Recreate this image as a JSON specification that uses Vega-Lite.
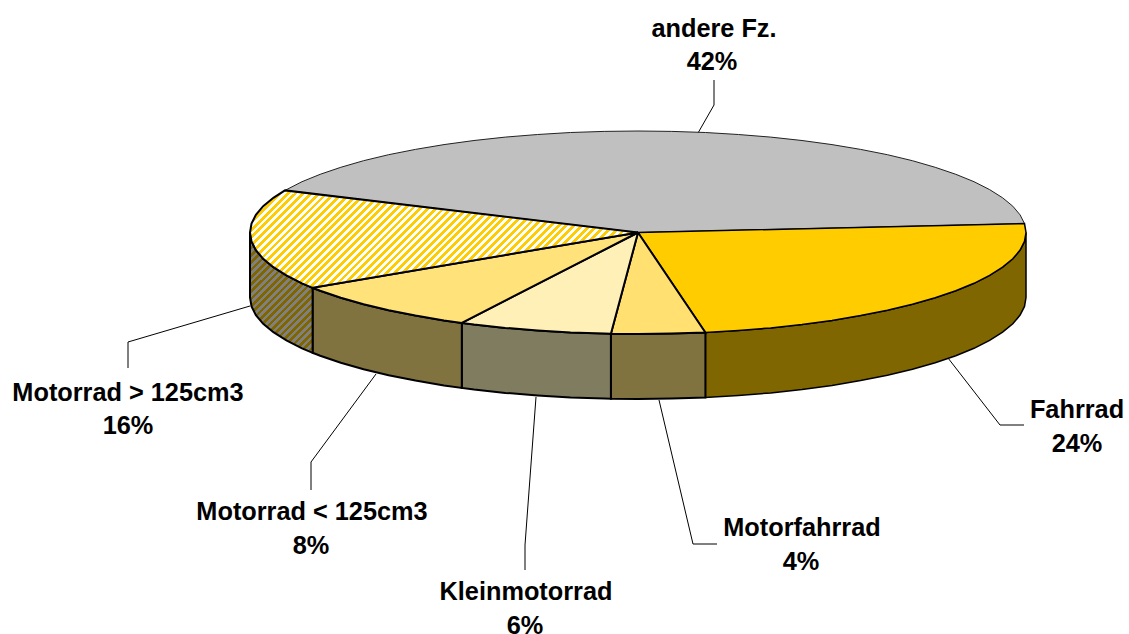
{"$schema":"https://vega.github.io/schema/vega-lite/v6.json","width":1129,"height":634,"padding":0,"autosize":{"type":"none"},"background":"white","config":{"view":{"stroke":null}},
"datasets":{"outline":[
{"part":"wF","i":0,"x":1026,"y":232.5},{"part":"wF","i":1,"x":1024.5,"y":241.4},{"part":"wF","i":2,"x":1020.1,"y":250.1},{"part":"wF","i":3,"x":1012.8,"y":258.8},{"part":"wF","i":4,"x":1002.6,"y":267.2},{"part":"wF","i":5,"x":989.6,"y":275.4},{"part":"wF","i":6,"x":974,"y":283.3},{"part":"wF","i":7,"x":955.8,"y":290.7},{"part":"wF","i":8,"x":935.2,"y":297.7},{"part":"wF","i":9,"x":912.4,"y":304.3},{"part":"wF","i":10,"x":887.4,"y":310.3},{"part":"wF","i":11,"x":860.6,"y":315.6},{"part":"wF","i":12,"x":832,"y":320.4},{"part":"wF","i":13,"x":802,"y":324.5},{"part":"wF","i":14,"x":770.7,"y":327.9},{"part":"wF","i":15,"x":738.4,"y":330.5},{"part":"wF","i":16,"x":705.4,"y":332.5},
{"part":"wF","i":17,"x":705.4,"y":397.5},{"part":"wF","i":18,"x":738.4,"y":395.5},{"part":"wF","i":19,"x":770.7,"y":392.9},{"part":"wF","i":20,"x":802,"y":389.5},{"part":"wF","i":21,"x":832,"y":385.4},{"part":"wF","i":22,"x":860.6,"y":380.6},{"part":"wF","i":23,"x":887.4,"y":375.3},{"part":"wF","i":24,"x":912.4,"y":369.3},{"part":"wF","i":25,"x":935.2,"y":362.7},{"part":"wF","i":26,"x":955.8,"y":355.7},{"part":"wF","i":27,"x":974,"y":348.3},{"part":"wF","i":28,"x":989.6,"y":340.4},{"part":"wF","i":29,"x":1002.6,"y":332.2},{"part":"wF","i":30,"x":1012.8,"y":323.8},{"part":"wF","i":31,"x":1020.1,"y":315.1},{"part":"wF","i":32,"x":1024.5,"y":306.4},{"part":"wF","i":33,"x":1026,"y":297.5},{"part":"wF","i":34,"x":1026,"y":232.5},
{"part":"wM","i":0,"x":705.4,"y":332.5},{"part":"wM","i":1,"x":671.8,"y":333.6},{"part":"wM","i":2,"x":638,"y":334},{"part":"wM","i":3,"x":610.9,"y":333.8},{"part":"wM","i":4,"x":610.9,"y":398.8},{"part":"wM","i":5,"x":638,"y":399},{"part":"wM","i":6,"x":671.8,"y":398.6},{"part":"wM","i":7,"x":705.4,"y":397.5},{"part":"wM","i":8,"x":705.4,"y":332.5},
{"part":"wK","i":0,"x":610.9,"y":333.8},{"part":"wK","i":1,"x":604.2,"y":333.6},{"part":"wK","i":2,"x":570.6,"y":332.5},{"part":"wK","i":3,"x":537.6,"y":330.5},{"part":"wK","i":4,"x":505.3,"y":327.9},{"part":"wK","i":5,"x":474,"y":324.5},{"part":"wK","i":6,"x":461.8,"y":322.9},{"part":"wK","i":7,"x":461.8,"y":387.9},{"part":"wK","i":8,"x":474,"y":389.5},{"part":"wK","i":9,"x":505.3,"y":392.9},{"part":"wK","i":10,"x":537.6,"y":395.5},{"part":"wK","i":11,"x":570.6,"y":397.5},{"part":"wK","i":12,"x":604.2,"y":398.6},{"part":"wK","i":13,"x":610.9,"y":398.8},{"part":"wK","i":14,"x":610.9,"y":333.8},
{"part":"wL","i":0,"x":461.8,"y":322.9},{"part":"wL","i":1,"x":444,"y":320.4},{"part":"wL","i":2,"x":415.4,"y":315.6},{"part":"wL","i":3,"x":388.6,"y":310.3},{"part":"wL","i":4,"x":363.6,"y":304.3},{"part":"wL","i":5,"x":340.8,"y":297.7},{"part":"wL","i":6,"x":320.2,"y":290.7},{"part":"wL","i":7,"x":312.6,"y":287.8},{"part":"wL","i":8,"x":312.6,"y":352.8},{"part":"wL","i":9,"x":320.2,"y":355.7},{"part":"wL","i":10,"x":340.8,"y":362.7},{"part":"wL","i":11,"x":363.6,"y":369.3},{"part":"wL","i":12,"x":388.6,"y":375.3},{"part":"wL","i":13,"x":415.4,"y":380.6},{"part":"wL","i":14,"x":444,"y":385.4},{"part":"wL","i":15,"x":461.8,"y":387.9},{"part":"wL","i":16,"x":461.8,"y":322.9},
{"part":"wG","i":0,"x":312.6,"y":287.8},{"part":"wG","i":1,"x":302,"y":283.3},{"part":"wG","i":2,"x":286.4,"y":275.4},{"part":"wG","i":3,"x":273.4,"y":267.2},{"part":"wG","i":4,"x":263.2,"y":258.8},{"part":"wG","i":5,"x":255.9,"y":250.1},{"part":"wG","i":6,"x":251.5,"y":241.4},{"part":"wG","i":7,"x":250,"y":232.5},{"part":"wG","i":8,"x":250,"y":297.5},{"part":"wG","i":9,"x":251.5,"y":306.4},{"part":"wG","i":10,"x":255.9,"y":315.1},{"part":"wG","i":11,"x":263.2,"y":323.8},{"part":"wG","i":12,"x":273.4,"y":332.2},{"part":"wG","i":13,"x":286.4,"y":340.4},{"part":"wG","i":14,"x":302,"y":348.3},{"part":"wG","i":15,"x":312.6,"y":352.8},{"part":"wG","i":16,"x":312.6,"y":287.8},
{"part":"tA","i":0,"x":638,"y":232.5},{"part":"tA","i":1,"x":285,"y":190.4},{"part":"tA","i":2,"x":302,"y":181.7},{"part":"tA","i":3,"x":320.2,"y":174.3},{"part":"tA","i":4,"x":340.8,"y":167.3},{"part":"tA","i":5,"x":363.6,"y":160.7},{"part":"tA","i":6,"x":388.6,"y":154.7},{"part":"tA","i":7,"x":415.4,"y":149.4},{"part":"tA","i":8,"x":444,"y":144.6},{"part":"tA","i":9,"x":474,"y":140.5},{"part":"tA","i":10,"x":505.3,"y":137.1},{"part":"tA","i":11,"x":537.6,"y":134.5},{"part":"tA","i":12,"x":570.6,"y":132.5},{"part":"tA","i":13,"x":604.2,"y":131.4},{"part":"tA","i":14,"x":638,"y":131},{"part":"tA","i":15,"x":671.8,"y":131.4},{"part":"tA","i":16,"x":705.4,"y":132.5},{"part":"tA","i":17,"x":738.4,"y":134.5},{"part":"tA","i":18,"x":770.7,"y":137.1},{"part":"tA","i":19,"x":802,"y":140.5},{"part":"tA","i":20,"x":832,"y":144.6},{"part":"tA","i":21,"x":860.6,"y":149.4},{"part":"tA","i":22,"x":887.4,"y":154.7},{"part":"tA","i":23,"x":912.4,"y":160.7},{"part":"tA","i":24,"x":935.2,"y":167.3},{"part":"tA","i":25,"x":955.8,"y":174.3},{"part":"tA","i":26,"x":974,"y":181.7},{"part":"tA","i":27,"x":989.6,"y":189.6},{"part":"tA","i":28,"x":1002.6,"y":197.8},{"part":"tA","i":29,"x":1012.8,"y":206.2},{"part":"tA","i":30,"x":1020.1,"y":214.9},{"part":"tA","i":31,"x":1024.5,"y":223.6},{"part":"tA","i":32,"x":638,"y":232.5},
{"part":"tF","i":0,"x":638,"y":232.5},{"part":"tF","i":1,"x":1024.5,"y":223.6},{"part":"tF","i":2,"x":1026,"y":232.5},{"part":"tF","i":3,"x":1024.5,"y":241.4},{"part":"tF","i":4,"x":1020.1,"y":250.1},{"part":"tF","i":5,"x":1012.8,"y":258.8},{"part":"tF","i":6,"x":1002.6,"y":267.2},{"part":"tF","i":7,"x":989.6,"y":275.4},{"part":"tF","i":8,"x":974,"y":283.3},{"part":"tF","i":9,"x":955.8,"y":290.7},{"part":"tF","i":10,"x":935.2,"y":297.7},{"part":"tF","i":11,"x":912.4,"y":304.3},{"part":"tF","i":12,"x":887.4,"y":310.3},{"part":"tF","i":13,"x":860.6,"y":315.6},{"part":"tF","i":14,"x":832,"y":320.4},{"part":"tF","i":15,"x":802,"y":324.5},{"part":"tF","i":16,"x":770.7,"y":327.9},{"part":"tF","i":17,"x":738.4,"y":330.5},{"part":"tF","i":18,"x":705.4,"y":332.5},{"part":"tF","i":19,"x":638,"y":232.5},
{"part":"tM","i":0,"x":638,"y":232.5},{"part":"tM","i":1,"x":705.4,"y":332.5},{"part":"tM","i":2,"x":671.8,"y":333.6},{"part":"tM","i":3,"x":638,"y":334},{"part":"tM","i":4,"x":610.9,"y":333.8},{"part":"tM","i":5,"x":638,"y":232.5},
{"part":"tK","i":0,"x":638,"y":232.5},{"part":"tK","i":1,"x":610.9,"y":333.8},{"part":"tK","i":2,"x":604.2,"y":333.6},{"part":"tK","i":3,"x":570.6,"y":332.5},{"part":"tK","i":4,"x":537.6,"y":330.5},{"part":"tK","i":5,"x":505.3,"y":327.9},{"part":"tK","i":6,"x":474,"y":324.5},{"part":"tK","i":7,"x":461.8,"y":322.9},{"part":"tK","i":8,"x":638,"y":232.5},
{"part":"tL","i":0,"x":638,"y":232.5},{"part":"tL","i":1,"x":461.8,"y":322.9},{"part":"tL","i":2,"x":444,"y":320.4},{"part":"tL","i":3,"x":415.4,"y":315.6},{"part":"tL","i":4,"x":388.6,"y":310.3},{"part":"tL","i":5,"x":363.6,"y":304.3},{"part":"tL","i":6,"x":340.8,"y":297.7},{"part":"tL","i":7,"x":320.2,"y":290.7},{"part":"tL","i":8,"x":312.6,"y":287.8},{"part":"tL","i":9,"x":638,"y":232.5},
{"part":"tG","i":0,"x":638,"y":232.5},{"part":"tG","i":1,"x":312.6,"y":287.8},{"part":"tG","i":2,"x":302,"y":283.3},{"part":"tG","i":3,"x":286.4,"y":275.4},{"part":"tG","i":4,"x":273.4,"y":267.2},{"part":"tG","i":5,"x":263.2,"y":258.8},{"part":"tG","i":6,"x":255.9,"y":250.1},{"part":"tG","i":7,"x":251.5,"y":241.4},{"part":"tG","i":8,"x":250,"y":232.5},{"part":"tG","i":9,"x":251.5,"y":223.6},{"part":"tG","i":10,"x":255.9,"y":214.9},{"part":"tG","i":11,"x":263.2,"y":206.2},{"part":"tG","i":12,"x":273.4,"y":197.8},{"part":"tG","i":13,"x":285,"y":190.4},{"part":"tG","i":14,"x":638,"y":232.5}
],
"leaders":[
{"to":"andere Fz.","i":0,"x":714,"y":80},{"to":"andere Fz.","i":1,"x":714,"y":105},{"to":"andere Fz.","i":2,"x":698,"y":133},
{"to":"Fahrrad","i":0,"x":948,"y":358},{"to":"Fahrrad","i":1,"x":1000,"y":425},{"to":"Fahrrad","i":2,"x":1024,"y":425},
{"to":"Motorfahrrad","i":0,"x":659,"y":400},{"to":"Motorfahrrad","i":1,"x":693,"y":544},{"to":"Motorfahrrad","i":2,"x":717,"y":544},
{"to":"Kleinmotorrad","i":0,"x":536,"y":397},{"to":"Kleinmotorrad","i":1,"x":525,"y":545},{"to":"Kleinmotorrad","i":2,"x":525,"y":570},
{"to":"Motorrad < 125cm3","i":0,"x":376,"y":374},{"to":"Motorrad < 125cm3","i":1,"x":311,"y":462},{"to":"Motorrad < 125cm3","i":2,"x":311,"y":490},
{"to":"Motorrad > 125cm3","i":0,"x":250,"y":306},{"to":"Motorrad > 125cm3","i":1,"x":128,"y":342},{"to":"Motorrad > 125cm3","i":2,"x":128,"y":368}
],
"labels":[
{"text":"andere Fz.","x":714,"y":27},{"text":"42%","x":712,"y":60},
{"text":"Fahrrad","x":1077,"y":408},{"text":"24%","x":1077,"y":442},
{"text":"Motorfahrrad","x":802,"y":526},{"text":"4%","x":801,"y":560},
{"text":"Kleinmotorrad","x":526,"y":590},{"text":"6%","x":525,"y":624},
{"text":"Motorrad < 125cm3","x":312,"y":510},{"text":"8%","x":311,"y":544},
{"text":"Motorrad > 125cm3","x":128,"y":391},{"text":"16%","x":128,"y":424}
]},
"encoding":{"x":{"field":"x","type":"quantitative","axis":null,"scale":{"domain":[0,1129],"nice":false,"zero":false}},"y":{"field":"y","type":"quantitative","axis":null,"scale":{"domain":[634,0],"nice":false,"zero":false}}},
"layer":[
{"data":{"name":"leaders"},"mark":{"type":"line","stroke":"#000","strokeWidth":1},"encoding":{"detail":{"field":"to"},"order":{"field":"i"}}},
{"data":{"name":"outline"},"transform":[{"filter":{"field":"part","equal":"wF"}}],"mark":{"type":"line","fill":"#806600","stroke":"#000","strokeWidth":1.5},"encoding":{"order":{"field":"i"}}},
{"data":{"name":"outline"},"transform":[{"filter":{"field":"part","equal":"wM"}}],"mark":{"type":"line","fill":"#807340","stroke":"#000","strokeWidth":2},"encoding":{"order":{"field":"i"}}},
{"data":{"name":"outline"},"transform":[{"filter":{"field":"part","equal":"wK"}}],"mark":{"type":"line","fill":"#807C60","stroke":"#000","strokeWidth":2},"encoding":{"order":{"field":"i"}}},
{"data":{"name":"outline"},"transform":[{"filter":{"field":"part","equal":"wL"}}],"mark":{"type":"line","fill":"#807340","stroke":"#000","strokeWidth":2},"encoding":{"order":{"field":"i"}}},
{"data":{"name":"outline"},"transform":[{"filter":{"field":"part","equal":"wG"}}],"mark":{"type":"line","stroke":"#000","strokeWidth":2,"fill":{"gradient":"linear","x1":0,"y1":0,"x2":0.622,"y2":1.196,"stops":[{"offset":0,"color":"#806600"},{"offset":0.02,"color":"#806600"},{"offset":0.02,"color":"#808080"},{"offset":0.04,"color":"#808080"},{"offset":0.04,"color":"#806600"},{"offset":0.06,"color":"#806600"},{"offset":0.06,"color":"#808080"},{"offset":0.08,"color":"#808080"},{"offset":0.08,"color":"#806600"},{"offset":0.1,"color":"#806600"},{"offset":0.1,"color":"#808080"},{"offset":0.12,"color":"#808080"},{"offset":0.12,"color":"#806600"},{"offset":0.14,"color":"#806600"},{"offset":0.14,"color":"#808080"},{"offset":0.16,"color":"#808080"},{"offset":0.16,"color":"#806600"},{"offset":0.18,"color":"#806600"},{"offset":0.18,"color":"#808080"},{"offset":0.2,"color":"#808080"},{"offset":0.2,"color":"#806600"},{"offset":0.22,"color":"#806600"},{"offset":0.22,"color":"#808080"},{"offset":0.24,"color":"#808080"},{"offset":0.24,"color":"#806600"},{"offset":0.26,"color":"#806600"},{"offset":0.26,"color":"#808080"},{"offset":0.28,"color":"#808080"},{"offset":0.28,"color":"#806600"},{"offset":0.3,"color":"#806600"},{"offset":0.3,"color":"#808080"},{"offset":0.32,"color":"#808080"},{"offset":0.32,"color":"#806600"},{"offset":0.34,"color":"#806600"},{"offset":0.34,"color":"#808080"},{"offset":0.36,"color":"#808080"},{"offset":0.36,"color":"#806600"},{"offset":0.38,"color":"#806600"},{"offset":0.38,"color":"#808080"},{"offset":0.4,"color":"#808080"},{"offset":0.4,"color":"#806600"},{"offset":0.42,"color":"#806600"},{"offset":0.42,"color":"#808080"},{"offset":0.44,"color":"#808080"},{"offset":0.44,"color":"#806600"},{"offset":0.46,"color":"#806600"},{"offset":0.46,"color":"#808080"},{"offset":0.48,"color":"#808080"},{"offset":0.48,"color":"#806600"},{"offset":0.5,"color":"#806600"},{"offset":0.5,"color":"#808080"},{"offset":0.52,"color":"#808080"},{"offset":0.52,"color":"#806600"},{"offset":0.54,"color":"#806600"},{"offset":0.54,"color":"#808080"},{"offset":0.56,"color":"#808080"},{"offset":0.56,"color":"#806600"},{"offset":0.58,"color":"#806600"},{"offset":0.58,"color":"#808080"},{"offset":0.6,"color":"#808080"},{"offset":0.6,"color":"#806600"},{"offset":0.62,"color":"#806600"},{"offset":0.62,"color":"#808080"},{"offset":0.64,"color":"#808080"},{"offset":0.64,"color":"#806600"},{"offset":0.66,"color":"#806600"},{"offset":0.66,"color":"#808080"},{"offset":0.68,"color":"#808080"},{"offset":0.68,"color":"#806600"},{"offset":0.7,"color":"#806600"},{"offset":0.7,"color":"#808080"},{"offset":0.72,"color":"#808080"},{"offset":0.72,"color":"#806600"},{"offset":0.74,"color":"#806600"},{"offset":0.74,"color":"#808080"},{"offset":0.76,"color":"#808080"},{"offset":0.76,"color":"#806600"},{"offset":0.78,"color":"#806600"},{"offset":0.78,"color":"#808080"},{"offset":0.8,"color":"#808080"},{"offset":0.8,"color":"#806600"},{"offset":0.82,"color":"#806600"},{"offset":0.82,"color":"#808080"},{"offset":0.84,"color":"#808080"},{"offset":0.84,"color":"#806600"},{"offset":0.86,"color":"#806600"},{"offset":0.86,"color":"#808080"},{"offset":0.88,"color":"#808080"},{"offset":0.88,"color":"#806600"},{"offset":0.9,"color":"#806600"},{"offset":0.9,"color":"#808080"},{"offset":0.92,"color":"#808080"},{"offset":0.92,"color":"#806600"},{"offset":0.94,"color":"#806600"},{"offset":0.94,"color":"#808080"},{"offset":0.96,"color":"#808080"},{"offset":0.96,"color":"#806600"},{"offset":0.98,"color":"#806600"},{"offset":0.98,"color":"#808080"},{"offset":1,"color":"#808080"}]}},"encoding":{"order":{"field":"i"}}},
{"data":{"name":"outline"},"transform":[{"filter":{"field":"part","equal":"tA"}}],"mark":{"type":"line","fill":"#C0C0C0","stroke":"#222","strokeWidth":1},"encoding":{"order":{"field":"i"}}},
{"data":{"name":"outline"},"transform":[{"filter":{"field":"part","equal":"tF"}}],"mark":{"type":"line","fill":"#FFCC00","stroke":"#000","strokeWidth":1.5},"encoding":{"order":{"field":"i"}}},
{"data":{"name":"outline"},"transform":[{"filter":{"field":"part","equal":"tM"}}],"mark":{"type":"line","fill":"#FFE070","stroke":"#000","strokeWidth":2},"encoding":{"order":{"field":"i"}}},
{"data":{"name":"outline"},"transform":[{"filter":{"field":"part","equal":"tK"}}],"mark":{"type":"line","fill":"#FFF0B8","stroke":"#000","strokeWidth":2},"encoding":{"order":{"field":"i"}}},
{"data":{"name":"outline"},"transform":[{"filter":{"field":"part","equal":"tL"}}],"mark":{"type":"line","fill":"#FFE27A","stroke":"#000","strokeWidth":2},"encoding":{"order":{"field":"i"}}},
{"data":{"name":"outline"},"transform":[{"filter":{"field":"part","equal":"tG"}}],"mark":{"type":"line","stroke":"#000","strokeWidth":2,"fill":{"gradient":"linear","x1":0,"y1":0,"x2":1.1769,"y2":0.2955,"stops":[{"offset":0,"color":"#fc0"},{"offset":0.008,"color":"#fc0"},{"offset":0.008,"color":"#fff"},{"offset":0.016,"color":"#fff"},{"offset":0.016,"color":"#fc0"},{"offset":0.024,"color":"#fc0"},{"offset":0.024,"color":"#fff"},{"offset":0.032,"color":"#fff"},{"offset":0.032,"color":"#fc0"},{"offset":0.04,"color":"#fc0"},{"offset":0.04,"color":"#fff"},{"offset":0.048,"color":"#fff"},{"offset":0.048,"color":"#fc0"},{"offset":0.056,"color":"#fc0"},{"offset":0.056,"color":"#fff"},{"offset":0.064,"color":"#fff"},{"offset":0.064,"color":"#fc0"},{"offset":0.072,"color":"#fc0"},{"offset":0.072,"color":"#fff"},{"offset":0.08,"color":"#fff"},{"offset":0.08,"color":"#fc0"},{"offset":0.088,"color":"#fc0"},{"offset":0.088,"color":"#fff"},{"offset":0.096,"color":"#fff"},{"offset":0.096,"color":"#fc0"},{"offset":0.104,"color":"#fc0"},{"offset":0.104,"color":"#fff"},{"offset":0.112,"color":"#fff"},{"offset":0.112,"color":"#fc0"},{"offset":0.12,"color":"#fc0"},{"offset":0.12,"color":"#fff"},{"offset":0.128,"color":"#fff"},{"offset":0.128,"color":"#fc0"},{"offset":0.136,"color":"#fc0"},{"offset":0.136,"color":"#fff"},{"offset":0.144,"color":"#fff"},{"offset":0.144,"color":"#fc0"},{"offset":0.152,"color":"#fc0"},{"offset":0.152,"color":"#fff"},{"offset":0.16,"color":"#fff"},{"offset":0.16,"color":"#fc0"},{"offset":0.168,"color":"#fc0"},{"offset":0.168,"color":"#fff"},{"offset":0.176,"color":"#fff"},{"offset":0.176,"color":"#fc0"},{"offset":0.184,"color":"#fc0"},{"offset":0.184,"color":"#fff"},{"offset":0.192,"color":"#fff"},{"offset":0.192,"color":"#fc0"},{"offset":0.2,"color":"#fc0"},{"offset":0.2,"color":"#fff"},{"offset":0.208,"color":"#fff"},{"offset":0.208,"color":"#fc0"},{"offset":0.216,"color":"#fc0"},{"offset":0.216,"color":"#fff"},{"offset":0.224,"color":"#fff"},{"offset":0.224,"color":"#fc0"},{"offset":0.232,"color":"#fc0"},{"offset":0.232,"color":"#fff"},{"offset":0.24,"color":"#fff"},{"offset":0.24,"color":"#fc0"},{"offset":0.248,"color":"#fc0"},{"offset":0.248,"color":"#fff"},{"offset":0.256,"color":"#fff"},{"offset":0.256,"color":"#fc0"},{"offset":0.264,"color":"#fc0"},{"offset":0.264,"color":"#fff"},{"offset":0.272,"color":"#fff"},{"offset":0.272,"color":"#fc0"},{"offset":0.28,"color":"#fc0"},{"offset":0.28,"color":"#fff"},{"offset":0.288,"color":"#fff"},{"offset":0.288,"color":"#fc0"},{"offset":0.296,"color":"#fc0"},{"offset":0.296,"color":"#fff"},{"offset":0.304,"color":"#fff"},{"offset":0.304,"color":"#fc0"},{"offset":0.312,"color":"#fc0"},{"offset":0.312,"color":"#fff"},{"offset":0.32,"color":"#fff"},{"offset":0.32,"color":"#fc0"},{"offset":0.328,"color":"#fc0"},{"offset":0.328,"color":"#fff"},{"offset":0.336,"color":"#fff"},{"offset":0.336,"color":"#fc0"},{"offset":0.344,"color":"#fc0"},{"offset":0.344,"color":"#fff"},{"offset":0.352,"color":"#fff"},{"offset":0.352,"color":"#fc0"},{"offset":0.36,"color":"#fc0"},{"offset":0.36,"color":"#fff"},{"offset":0.368,"color":"#fff"},{"offset":0.368,"color":"#fc0"},{"offset":0.376,"color":"#fc0"},{"offset":0.376,"color":"#fff"},{"offset":0.384,"color":"#fff"},{"offset":0.384,"color":"#fc0"},{"offset":0.392,"color":"#fc0"},{"offset":0.392,"color":"#fff"},{"offset":0.4,"color":"#fff"},{"offset":0.4,"color":"#fc0"},{"offset":0.408,"color":"#fc0"},{"offset":0.408,"color":"#fff"},{"offset":0.416,"color":"#fff"},{"offset":0.416,"color":"#fc0"},{"offset":0.424,"color":"#fc0"},{"offset":0.424,"color":"#fff"},{"offset":0.432,"color":"#fff"},{"offset":0.432,"color":"#fc0"},{"offset":0.44,"color":"#fc0"},{"offset":0.44,"color":"#fff"},{"offset":0.448,"color":"#fff"},{"offset":0.448,"color":"#fc0"},{"offset":0.456,"color":"#fc0"},{"offset":0.456,"color":"#fff"},{"offset":0.464,"color":"#fff"},{"offset":0.464,"color":"#fc0"},{"offset":0.472,"color":"#fc0"},{"offset":0.472,"color":"#fff"},{"offset":0.48,"color":"#fff"},{"offset":0.48,"color":"#fc0"},{"offset":0.488,"color":"#fc0"},{"offset":0.488,"color":"#fff"},{"offset":0.496,"color":"#fff"},{"offset":0.496,"color":"#fc0"},{"offset":0.504,"color":"#fc0"},{"offset":0.504,"color":"#fff"},{"offset":0.512,"color":"#fff"},{"offset":0.512,"color":"#fc0"},{"offset":0.52,"color":"#fc0"},{"offset":0.52,"color":"#fff"},{"offset":0.528,"color":"#fff"},{"offset":0.528,"color":"#fc0"},{"offset":0.536,"color":"#fc0"},{"offset":0.536,"color":"#fff"},{"offset":0.544,"color":"#fff"},{"offset":0.544,"color":"#fc0"},{"offset":0.552,"color":"#fc0"},{"offset":0.552,"color":"#fff"},{"offset":0.56,"color":"#fff"},{"offset":0.56,"color":"#fc0"},{"offset":0.568,"color":"#fc0"},{"offset":0.568,"color":"#fff"},{"offset":0.576,"color":"#fff"},{"offset":0.576,"color":"#fc0"},{"offset":0.584,"color":"#fc0"},{"offset":0.584,"color":"#fff"},{"offset":0.592,"color":"#fff"},{"offset":0.592,"color":"#fc0"},{"offset":0.6,"color":"#fc0"},{"offset":0.6,"color":"#fff"},{"offset":0.608,"color":"#fff"},{"offset":0.608,"color":"#fc0"},{"offset":0.616,"color":"#fc0"},{"offset":0.616,"color":"#fff"},{"offset":0.624,"color":"#fff"},{"offset":0.624,"color":"#fc0"},{"offset":0.632,"color":"#fc0"},{"offset":0.632,"color":"#fff"},{"offset":0.64,"color":"#fff"},{"offset":0.64,"color":"#fc0"},{"offset":0.648,"color":"#fc0"},{"offset":0.648,"color":"#fff"},{"offset":0.656,"color":"#fff"},{"offset":0.656,"color":"#fc0"},{"offset":0.664,"color":"#fc0"},{"offset":0.664,"color":"#fff"},{"offset":0.672,"color":"#fff"},{"offset":0.672,"color":"#fc0"},{"offset":0.68,"color":"#fc0"},{"offset":0.68,"color":"#fff"},{"offset":0.688,"color":"#fff"},{"offset":0.688,"color":"#fc0"},{"offset":0.696,"color":"#fc0"},{"offset":0.696,"color":"#fff"},{"offset":0.704,"color":"#fff"},{"offset":0.704,"color":"#fc0"},{"offset":0.712,"color":"#fc0"},{"offset":0.712,"color":"#fff"},{"offset":0.72,"color":"#fff"},{"offset":0.72,"color":"#fc0"},{"offset":0.728,"color":"#fc0"},{"offset":0.728,"color":"#fff"},{"offset":0.736,"color":"#fff"},{"offset":0.736,"color":"#fc0"},{"offset":0.744,"color":"#fc0"},{"offset":0.744,"color":"#fff"},{"offset":0.752,"color":"#fff"},{"offset":0.752,"color":"#fc0"},{"offset":0.76,"color":"#fc0"},{"offset":0.76,"color":"#fff"},{"offset":0.768,"color":"#fff"},{"offset":0.768,"color":"#fc0"},{"offset":0.776,"color":"#fc0"},{"offset":0.776,"color":"#fff"},{"offset":0.784,"color":"#fff"},{"offset":0.784,"color":"#fc0"},{"offset":0.792,"color":"#fc0"},{"offset":0.792,"color":"#fff"},{"offset":0.8,"color":"#fff"},{"offset":0.8,"color":"#fc0"},{"offset":0.808,"color":"#fc0"},{"offset":0.808,"color":"#fff"},{"offset":0.816,"color":"#fff"},{"offset":0.816,"color":"#fc0"},{"offset":0.824,"color":"#fc0"},{"offset":0.824,"color":"#fff"},{"offset":0.832,"color":"#fff"},{"offset":0.832,"color":"#fc0"},{"offset":0.84,"color":"#fc0"},{"offset":0.84,"color":"#fff"},{"offset":0.848,"color":"#fff"},{"offset":0.848,"color":"#fc0"},{"offset":0.856,"color":"#fc0"},{"offset":0.856,"color":"#fff"},{"offset":0.864,"color":"#fff"},{"offset":0.864,"color":"#fc0"},{"offset":0.872,"color":"#fc0"},{"offset":0.872,"color":"#fff"},{"offset":0.88,"color":"#fff"},{"offset":0.88,"color":"#fc0"},{"offset":0.888,"color":"#fc0"},{"offset":0.888,"color":"#fff"},{"offset":0.896,"color":"#fff"},{"offset":0.896,"color":"#fc0"},{"offset":0.904,"color":"#fc0"},{"offset":0.904,"color":"#fff"},{"offset":0.912,"color":"#fff"},{"offset":0.912,"color":"#fc0"},{"offset":0.92,"color":"#fc0"},{"offset":0.92,"color":"#fff"},{"offset":0.928,"color":"#fff"},{"offset":0.928,"color":"#fc0"},{"offset":0.936,"color":"#fc0"},{"offset":0.936,"color":"#fff"},{"offset":0.944,"color":"#fff"},{"offset":0.944,"color":"#fc0"},{"offset":0.952,"color":"#fc0"},{"offset":0.952,"color":"#fff"},{"offset":0.96,"color":"#fff"},{"offset":0.96,"color":"#fc0"},{"offset":0.968,"color":"#fc0"},{"offset":0.968,"color":"#fff"},{"offset":0.976,"color":"#fff"},{"offset":0.976,"color":"#fc0"},{"offset":0.984,"color":"#fc0"},{"offset":0.984,"color":"#fff"},{"offset":0.992,"color":"#fff"},{"offset":0.992,"color":"#fc0"},{"offset":1,"color":"#fc0"}]}},"encoding":{"order":{"field":"i"}}},
{"data":{"name":"labels"},"mark":{"type":"text","font":"Liberation Sans","fontWeight":"bold","fontSize":25.3,"color":"#000","align":"center","baseline":"middle","dy":2},"encoding":{"text":{"field":"text"}}}
]}
